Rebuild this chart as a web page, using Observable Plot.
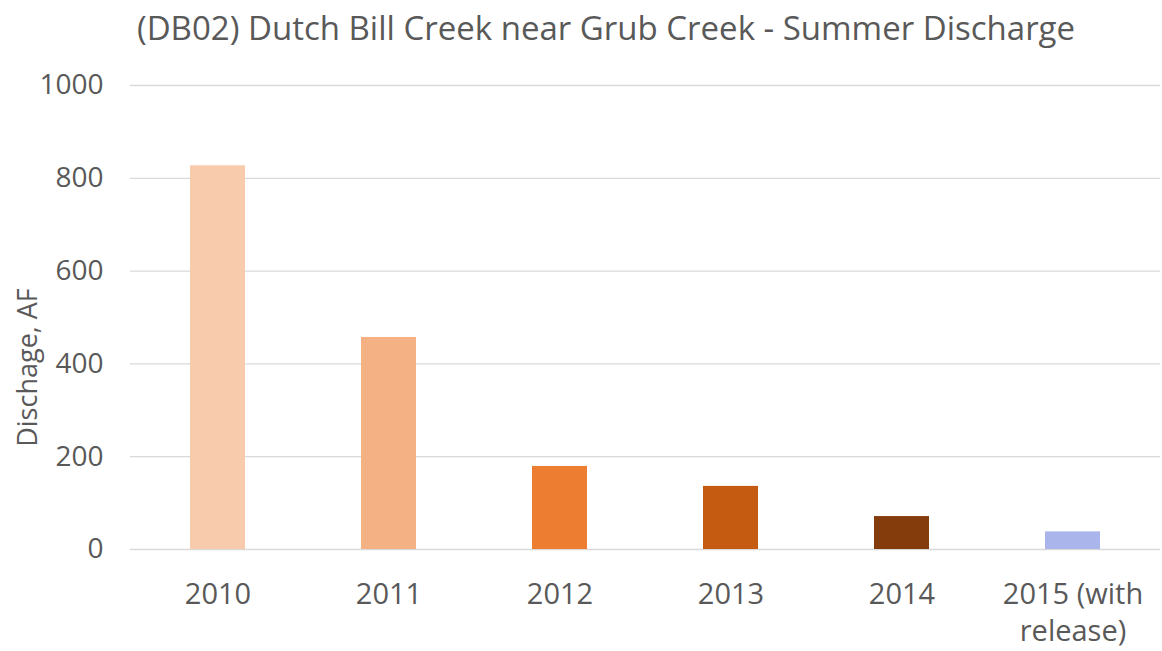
<!DOCTYPE html>
<html>
<head>
<meta charset="utf-8">
<script src="https://cdn.jsdelivr.net/npm/d3@7"></script>
<script src="https://cdn.jsdelivr.net/npm/@observablehq/plot@0.6"></script>
<style>
  html, body { margin: 0; padding: 0; background: #fff; }
  #title { font-family: "Open Sans", sans-serif; font-size: 33px; color: #595959;
           height: 60px; line-height: 56px; text-align: center; padding-left: 50px; box-sizing: border-box; white-space: nowrap; }
</style>
</head>
<body>
<div id="title">(DB02) Dutch Bill Creek near Grub Creek - Summer Discharge</div>
<div id="chart"></div>
<script>
const years = ["2010", "2011", "2012", "2013", "2014", "2015"];
const tickLabels = ["2010", "2011", "2012", "2013", "2014", "2015 (with\nrelease)"];
const discharge = [827, 457, 179, 136, 71, 38];
const barColors = ["#f8cbad", "#f4b183", "#ed7d31", "#c55a11", "#843c0c", "#aab5ec"];
const yTicks = [0, 200, 400, 600, 800, 1000];
const yLabel = "Dischage, AF";

const data = years.map((y, i) => ({year: y, value: discharge[i], color: barColors[i]}));

const chart = Plot.plot({
  width: 1162,
  height: 591,
  marginTop: 25,
  marginBottom: 102,
  marginLeft: 130,
  marginRight: 2,
  style: {fontFamily: "'Open Sans', sans-serif", color: "#595959", background: "#fff"},
  x: {domain: years, paddingInner: 0.68, paddingOuter: 0.34},
  y: {domain: [0, 1000]},
  marks: [
    Plot.gridY(yTicks, {stroke: "#d9d9d9", strokeOpacity: 1, strokeWidth: 1.3}),
    Plot.barY(data, {x: "year", y: "value", fill: "color"}),
    Plot.axisY(yTicks, {tickSize: 0, tickPadding: 27, fontSize: 28, fill: "#595959",
      tickFormat: (d) => String(d), label: null}),
    Plot.axisX({tickSize: 0, tickPadding: 28, fontSize: 29, fill: "#595959", lineHeight: 1.28,
      tickFormat: (d) => tickLabels[years.indexOf(d)], label: null}),
    Plot.text([yLabel], {text: (d) => d, frameAnchor: "left", textAnchor: "middle", rotate: -90,
      dx: -102, dy: 50, fontSize: 27, fill: "#595959"})
  ]
});
document.getElementById("chart").appendChild(chart);
</script>
</body>
</html>
